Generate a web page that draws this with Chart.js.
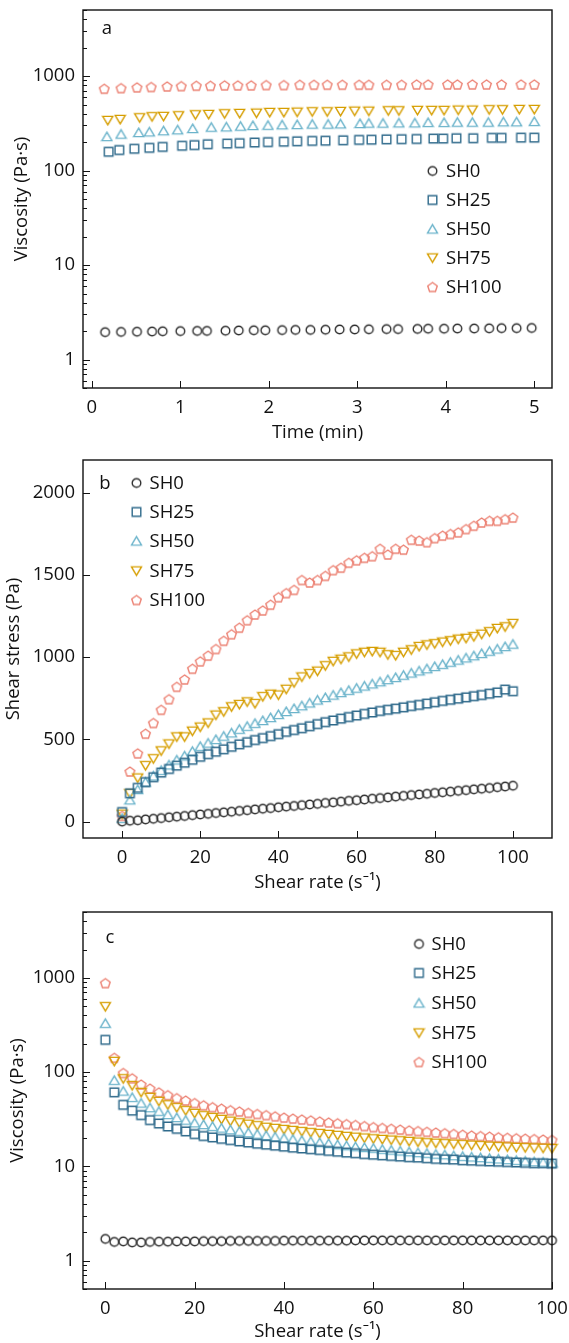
<!DOCTYPE html>
<html><head><meta charset="utf-8">
<script src="https://cdn.jsdelivr.net/npm/chart.js@4/dist/chart.umd.min.js"></script>
<style>
html,body{margin:0;padding:0;background:#fff;}
#wrap{position:relative;width:569px;height:1343px;overflow:hidden;background:#fff;}
canvas{position:absolute;left:0;}
</style></head><body>
<div id="wrap">
<canvas id="ca" width="569" height="450" style="top:0px"></canvas>
<canvas id="cb" width="569" height="450" style="top:450px"></canvas>
<canvas id="cc" width="569" height="453" style="top:890px"></canvas>
</div>
<script>
// ---------- names ----------
const seriesNames = ['SH0', 'SH25', 'SH50', 'SH75', 'SH100'];

// ---------- panel a : viscosity vs time ----------
const aTimeSH0   = [0.15,0.33,0.51,0.68,0.80,1.00,1.19,1.30,1.51,1.66,1.83,1.96,2.15,2.30,2.47,2.64,2.80,2.97,3.13,3.33,3.46,3.68,3.80,3.98,4.13,4.32,4.49,4.63,4.80,4.97];
const aViscSH0   = [1.95,1.96,1.97,1.98,1.99,2.00,2.01,2.01,2.02,2.03,2.04,2.04,2.05,2.06,2.06,2.07,2.08,2.08,2.09,2.10,2.10,2.11,2.12,2.12,2.13,2.13,2.14,2.15,2.15,2.16];
const aTimeSH25  = [0.19,0.31,0.48,0.65,0.80,1.02,1.16,1.31,1.53,1.67,1.84,1.99,2.17,2.32,2.49,2.64,2.84,3.02,3.16,3.33,3.50,3.67,3.86,3.97,4.12,4.31,4.52,4.63,4.85,5.00];
const aViscSH25  = [158,165,170,174,178,183,186,190,193,195,198,200,202,204,206,207,209,211,212,214,215,216,218,218,220,220,222,222,223,223];
const aTimeSH50  = [0.17,0.33,0.53,0.65,0.81,0.97,1.14,1.35,1.52,1.68,1.82,1.99,2.15,2.32,2.49,2.67,2.81,3.03,3.13,3.29,3.47,3.65,3.80,3.98,4.13,4.30,4.48,4.65,4.80,5.00];
const aViscSH50  = [229,243,253,257,264,270,279,288,290,295,300,302,305,307,310,310,312,315,318,318,320,320,323,323,325,325,325,328,328,331];
const aTimeSH75  = [0.18,0.32,0.54,0.68,0.81,0.98,1.17,1.32,1.50,1.67,1.86,2.01,2.17,2.32,2.49,2.66,2.81,2.97,3.13,3.35,3.47,3.68,3.84,3.98,4.14,4.30,4.49,4.64,4.83,5.00];
const aViscSH75  = [339,347,362,371,374,380,389,392,399,402,405,412,412,415,419,419,422,425,425,429,429,433,433,433,436,436,440,440,443,443];
const aTimeSH100 = [0.14,0.33,0.51,0.67,0.85,1.01,1.18,1.34,1.50,1.65,1.80,1.97,2.17,2.35,2.51,2.66,2.83,3.02,3.13,3.33,3.50,3.67,3.80,4.02,4.13,4.30,4.46,4.63,4.85,5.00];
const aViscSH100 = [734,746,759,766,777,783,790,790,797,797,797,803,803,810,810,810,810,810,810,810,810,816,816,816,816,816,816,816,816,816];
const aTimeTicks = [0,1,2,3,4,5];

// ---------- panel b : shear stress vs shear rate ----------
const shearRate = [0,2,4,6,8,10,12,14,16,18,20,22,24,26,28,30,32,34,36,38,40,42,44,46,48,50,52,54,56,58,60,62,64,66,68,70,72,74,76,78,80,82,84,86,88,90,92,94,96,98,100];
const bStressSH0   = [0,5,8,13,17,21,26,30,34,39,43,47,52,56,60,65,69,74,78,82,87,91,95,100,104,108,113,117,121,126,130,134,139,143,147,152,156,161,165,169,174,178,182,187,191,196,200,204,209,213,218];
const bStressSH25  = [58,172,205,240,270,298,320,340,358,376,394,410,425,440,455,470,483,496,508,520,532,546,557,568,580,593,605,615,626,636,645,655,664,673,680,687,695,703,710,718,726,734,741,748,756,763,770,778,786,803,793];
const bStressSH50  = [20,132,195,240,278,312,345,375,400,428,458,478,500,520,540,562,580,598,615,633,652,670,688,705,722,740,755,770,785,799,812,825,838,851,864,877,891,904,917,930,944,957,970,983,996,1009,1023,1037,1050,1065,1080];
const bStressSH75  = [45,170,265,340,382,430,472,515,515,550,575,600,648,668,698,712,728,718,760,775,770,805,845,880,900,915,948,975,988,1002,1020,1030,1035,1030,1015,1010,1030,1045,1065,1075,1082,1092,1100,1110,1115,1125,1140,1155,1175,1185,1205];
const bStressSH100 = [35,305,415,535,600,680,745,820,865,930,975,1010,1050,1100,1140,1180,1225,1260,1285,1320,1365,1390,1410,1470,1455,1470,1495,1530,1545,1575,1590,1605,1615,1660,1625,1660,1655,1715,1710,1700,1725,1740,1750,1760,1780,1800,1820,1830,1830,1840,1850];
const bRateTicks = [0,20,40,60,80,100];
const bStressTicks = [0,500,1000,1500,2000];

// ---------- panel c : viscosity vs shear rate ----------
const cViscSH0   = [1.70,1.58,1.60,1.56,1.56,1.58,1.59,1.59,1.60,1.60,1.60,1.61,1.61,1.61,1.62,1.62,1.62,1.62,1.62,1.62,1.63,1.63,1.63,1.63,1.63,1.63,1.63,1.63,1.64,1.64,1.64,1.64,1.64,1.64,1.64,1.64,1.64,1.64,1.64,1.64,1.64,1.64,1.64,1.64,1.64,1.64,1.64,1.64,1.64,1.64,1.64];
const cViscSH25  = [220,61,45,39,35,31,28.5,26.5,25,23.5,22,21,20.3,19.6,19,18.4,17.9,17.4,17,16.6,16.2,15.8,15.5,15.2,14.9,14.6,14.3,14,13.8,13.5,13.3,13.1,12.9,12.7,12.5,12.4,12.2,12,11.9,11.8,11.6,11.5,11.4,11.3,11.2,11.1,11,10.9,10.8,10.8,10.7];
const cViscSH50  = [330,82,63,54,47,42,38.5,35.5,33,31,29,27.8,26.6,25.5,24.5,23.6,22.8,22,21.3,20.6,20,19.4,18.9,18.4,17.9,17.5,17,16.6,16.2,15.9,15.6,15.2,14.9,14.6,14.3,14,13.8,13.5,13.3,13,12.8,12.6,12.4,12.2,12,11.8,11.6,11.4,11.2,11.1,10.9];
const cViscSH75  = [495,130,85,72,61,54,49,45,42,39,36.5,34.5,33,31.5,30.2,29,28,27,26,25.3,24.6,24,23.4,22.8,22.3,21.8,21.3,20.8,20.4,20,19.6,19.3,19,18.7,18.4,18.1,17.8,17.6,17.4,17.2,17,16.8,16.6,16.4,16.2,16.1,15.9,15.8,15.7,15.6,15.5];
const cViscSH100 = [880,142,98,86,74,67,61,57,53,50,47,44.5,42.5,41,39.5,38.3,37,36,35,34,33,32.2,31.5,30.8,30,29.3,28.7,28.1,27.5,26.8,26.1,25.6,25.1,24.6,24.1,23.7,23.3,22.9,22.5,22.1,21.7,21.3,21,20.7,20.4,20.1,19.9,19.7,19.5,19.3,19.1];

// ---------- log axis ticks (shared by a and c) ----------
const logMajorTicks = [1,10,100,1000];
const logMinorTicks = [0.5,0.6,0.7,0.8,0.9,2,3,4,5,6,7,8,9,20,30,40,50,60,70,80,90,200,300,400,500,600,700,800,900,2000,3000,4000,5000];

// ---------- styling ----------
const FONT = "'Open Sans', 'Noto Sans', sans-serif";
const FS = 18.5;
const INK = '#111111';
const colors = ['#303030', '#2f6a8b', '#6cb4cb', '#d69e00', '#ec8274'];
const shapes = ['circle', 'square', 'up', 'down', 'pent'];

Chart.defaults.font.family = FONT;
Chart.defaults.font.size = FS;
Chart.defaults.color = INK;

function makeMarker(shape, color) {
  const c = document.createElement('canvas');
  c.width = 13; c.height = 13;
  const g = c.getContext('2d');
  const m = 6.5;
  g.strokeStyle = color;
  g.lineWidth = 1.4;
  g.lineJoin = 'miter';
  g.beginPath();
  if (shape === 'circle') {
    g.arc(m, m, 4.3, 0, Math.PI * 2);
  } else if (shape === 'square') {
    g.rect(m - 4.3, m - 4.3, 8.6, 8.6);
  } else if (shape === 'up') {
    g.moveTo(m, m - 4.3); g.lineTo(m + 5, m + 4.1); g.lineTo(m - 5, m + 4.1); g.closePath();
  } else if (shape === 'down') {
    g.moveTo(m, m + 4.3); g.lineTo(m + 5, m - 4.1); g.lineTo(m - 5, m - 4.1); g.closePath();
  } else if (shape === 'pent') {
    for (let k = 0; k < 5; k++) {
      const ang = -Math.PI / 2 + k * 2 * Math.PI / 5;
      const px = m + 5 * Math.cos(ang), py = m + 0.5 + 5 * Math.sin(ang);
      if (k === 0) g.moveTo(px, py); else g.lineTo(px, py);
    }
    g.closePath();
  }
  g.stroke();
  return c;
}
const markers = shapes.map((s, i) => makeMarker(s, colors[i]));

function pts(xs, ys) { return xs.map((x, i) => ({ x: x, y: ys[i] })); }
function ds(i, xs, ys) {
  return {
    label: seriesNames[i], data: pts(xs, ys), showLine: false,
    pointStyle: markers[i], pointRadius: 5, pointHoverRadius: 5,
    borderColor: colors[i], backgroundColor: 'transparent', clip: false
  };
}

const decor = {
  id: 'decor',
  afterDraw(chart, args, o) {
    const { ctx, chartArea: a } = chart;
    const xs = chart.scales.x, ys = chart.scales.y;
    ctx.save();
    ctx.strokeStyle = INK;
    ctx.lineWidth = 1;
    ctx.beginPath();
    for (const v of o.xTicks) {
      const p = Math.round(xs.getPixelForValue(v)) + 0.5;
      ctx.moveTo(p, a.bottom); ctx.lineTo(p, a.bottom - 7);
    }
    for (const v of o.yMajor) {
      const p = Math.round(ys.getPixelForValue(v)) + 0.5;
      ctx.moveTo(a.left, p); ctx.lineTo(a.left + 7, p);
    }
    for (const v of (o.yMinor || [])) {
      const p = Math.round(ys.getPixelForValue(v)) + 0.5;
      ctx.moveTo(a.left, p); ctx.lineTo(a.left + 4, p);
    }
    ctx.stroke();
    ctx.lineWidth = 1.4;
    ctx.strokeRect(a.left, a.top, a.right - a.left, a.bottom - a.top);
    // panel letter
    ctx.fillStyle = INK;
    ctx.font = FS + 'px ' + FONT;
    ctx.textBaseline = 'middle';
    ctx.textAlign = 'center';
    ctx.fillText(o.letter, o.letterX, o.letterY);
    // legend
    ctx.textAlign = 'left';
    chart.data.datasets.forEach((d, i) => {
      const ly = o.legendY[i];
      ctx.drawImage(markers[i], o.legendMarkX - 6.5, ly - 6.5);
      ctx.fillText(d.label, o.legendTextX, ly + 0.5);
    });
    ctx.restore();
  }
};

function zeroPad(s) { s.paddingTop = 0; s.paddingBottom = 0; s.paddingLeft = 0; s.paddingRight = 0; }

function makeChart(id, cfg) {
  return new Chart(document.getElementById(id), {
    type: 'scatter',
    data: { datasets: cfg.datasets },
    options: {
      responsive: false, animation: false, devicePixelRatio: 1,
      events: [],
      layout: { padding: { left: 0, right: 17, top: cfg.padTop, bottom: 0 } },
      plugins: { legend: { display: false }, tooltip: { enabled: false }, decor: cfg.decor },
      scales: {
        x: {
          type: 'linear', min: cfg.xMin, max: cfg.xMax,
          afterFit: s => { s.height = cfg.xHeight; zeroPad(s); },
          afterBuildTicks: s => { s.ticks = cfg.xTicks.map(v => ({ value: v })); },
          grid: { display: false, drawTicks: false }, border: { display: false },
          ticks: { padding: 9, callback: v => String(v), maxRotation: 0, autoSkip: false, color: INK },
          title: { display: true, text: cfg.xTitle, color: INK, padding: { top: 0, bottom: cfg.xTitlePad } }
        },
        y: {
          type: cfg.yType, min: cfg.yMin, max: cfg.yMax,
          afterFit: s => { s.width = 83; zeroPad(s); },
          afterBuildTicks: s => { s.ticks = cfg.yTicks.map(v => ({ value: v })); },
          grid: { display: false, drawTicks: false }, border: { display: false },
          ticks: { padding: 8, callback: v => String(v), autoSkip: false, color: INK },
          title: { display: true, text: cfg.yTitle, color: INK, padding: { top: cfg.yTitlePad, bottom: 0 } }
        }
      }
    },
    plugins: [decor]
  });
}

// Panel a
makeChart('ca', {
  datasets: [
    ds(0, aTimeSH0, aViscSH0), ds(1, aTimeSH25, aViscSH25), ds(2, aTimeSH50, aViscSH50),
    ds(3, aTimeSH75, aViscSH75), ds(4, aTimeSH100, aViscSH100)
  ],
  xMin: -0.1, xMax: 5.2, xTicks: aTimeTicks, xTitle: 'Time (min)', xHeight: 62, xTitlePad: 6,
  yType: 'logarithmic', yMin: 0.5, yMax: 5000, yTicks: logMajorTicks, yTitle: 'Viscosity (Pa·s)', yTitlePad: 11,
  padTop: 10,
  decor: { xTicks: aTimeTicks, yMajor: logMajorTicks, yMinor: logMinorTicks,
           letter: 'a', letterX: 107, letterY: 29,
           legendMarkX: 432.5, legendTextX: 446, legendY: [171, 200, 229, 258, 287] }
});

// Panel b
makeChart('cb', {
  datasets: [
    ds(0, shearRate, bStressSH0), ds(1, shearRate, bStressSH25), ds(2, shearRate, bStressSH50),
    ds(3, shearRate, bStressSH75), ds(4, shearRate, bStressSH100)
  ],
  xMin: -10, xMax: 110, xTicks: bRateTicks, xTitle: 'Shear rate (s\u207B\u00B9)', xHeight: 62, xTitlePad: 6,
  yType: 'linear', yMin: -100, yMax: 2200, yTicks: bStressTicks, yTitle: 'Shear stress (Pa)', yTitlePad: 3,
  padTop: 10,
  decor: { xTicks: bRateTicks, yMajor: bStressTicks, yMinor: [],
           letter: 'b', letterX: 105, letterY: 34,
           legendMarkX: 136.5, legendTextX: 149.5, legendY: [33, 62, 91, 121, 150] }
});

// Panel c
makeChart('cc', {
  datasets: [
    ds(0, shearRate, cViscSH0), ds(1, shearRate, cViscSH25), ds(2, shearRate, cViscSH50),
    ds(3, shearRate, cViscSH75), ds(4, shearRate, cViscSH100)
  ],
  xMin: -5, xMax: 100, xTicks: bRateTicks, xTitle: 'Shear rate (s\u207B\u00B9)', xHeight: 54, xTitlePad: 0,
  yType: 'logarithmic', yMin: 0.5, yMax: 5000, yTicks: logMajorTicks, yTitle: 'Viscosity (Pa·s)', yTitlePad: 7,
  padTop: 22,
  decor: { xTicks: bRateTicks, yMajor: logMajorTicks, yMinor: logMinorTicks,
           letter: 'c', letterX: 110, letterY: 48,
           legendMarkX: 419, legendTextX: 431.5, legendY: [54, 83, 113, 143, 172] }
});
</script>
</body></html>
